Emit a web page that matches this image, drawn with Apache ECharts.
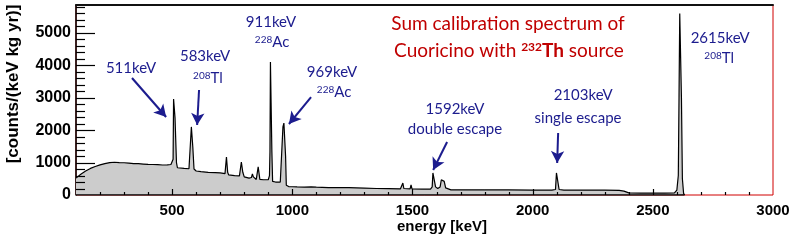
<!DOCTYPE html>
<html><head><meta charset="utf-8">
<script src="https://cdn.jsdelivr.net/npm/echarts@6/dist/echarts.min.js"></script>
<style>html,body{margin:0;padding:0;background:#fff}#c{width:794px;height:240px}</style>
</head><body><div id="c"></div>
<script>
// Spectrum: energy (keV) and counts/(keV kg yr)
const energy = [100,120,140,160,180,200,220,240,260,280,300,320,340,360,380,400,420,440,460,480,495,
  500,504,506,510,512,515,518,522,530,550,570,578,580,584,586,589,591,600,620,650,680,700,720,724,726,729,731,735,
  760,780,786,788,792,794,800,820,830,834,838,850,856,858,862,865,880,900,905,907,909,913,915,918,930,950,958,961,965,969,972,975,
  985,1000,1020,1050,1078,1082,1086,1100,1150,1200,1236,1240,1244,1300,1350,1400,1450,1456,1460,1464,1490,1494,1498,
  1540,1575,1582,1585,1592,1596,1605,1615,1620,1626,1632,1638,1660,1700,1800,1900,2000,2080,2095,2099,2106,2110,2130,
  2200,2300,2360,2380,2400,2450,2500,2550,2590,2600,2606,2609,2612,2616,2619,2623,2628,2632];
const counts = [520,640,740,820,880,930,970,1000,1010,1000,995,985,970,965,955,945,940,935,925,930,940,
  950,1100,2960,2960,2380,2380,1000,840,830,820,810,850,2100,2100,1480,1480,800,740,720,700,690,680,660,700,1170,1170,700,620,
  600,590,620,1018,1018,700,560,520,540,650,560,480,520,865,865,480,470,470,600,1330,4100,4100,1330,420,400,400,450,2100,2220,2220,1200,300,
  260,255,250,245,250,300,250,240,230,225,225,270,225,210,200,195,190,200,370,200,190,309,190,
  180,180,250,680,680,250,200,250,470,494,420,220,160,160,155,155,150,150,170,680,680,170,150,
  150,150,145,120,65,60,60,60,65,150,600,3025,5600,5600,3025,500,50,0];
const xMajorTicks = [500,1000,1500,2000,2500,3000];
const yMajorTicks = [0,1000,2000,3000,4000,5000];
const xTickValues = [200,300,400,500,600,700,800,900,1000,1100,1200,1300,1400,1500,1600,1700,1800,1900,2000,2100,2200,2300,2400,2500,2600,2700,2800,2900];
const yTickValues = [200,400,600,800,1000,1200,1400,1600,1800,2000,2200,2400,2600,2800,3000,3200,3400,3600,3800,4000,4200,4400,4600,4800,5000,5200,5400,5600,5800];

// Annotation arrows: [fromE, fromV, toE, toV]
const arrows = [[333,3608,475,2405],[612,3238,604,2159],[1078,3022,986,2190],[1644,1634,1586,771],[2106,1912,2102,987]];
// Annotation labels (centres in data coordinates)
const labelText = ['511keV','583keV','{s|208}Tl','911keV','{s|228}Ac','969keV','{s|228}Ac','1592keV','double escape','2103keV','single escape','2615keV','{s|208}Tl'];
const labelE = [329,637,649,911,916,1165,1174,1677,1677,2210,2189,2780,2776];
const labelV = [3917,4287,3608,5335,4719,3793,3177,2652,2035,3084,2375,4842,4225];

const XMIN = 100, XMAX = 3000, YMIN = 0, YMAX = 5860;
const BLUE = '#1c1c8e', RED = '#c00000';
const chart = echarts.init(document.getElementById('c'), null, {renderer:'canvas'});
const data = energy.map((e,i)=>[e,counts[i]]);
const baseLine = [[energy[0],0],[energy[energy.length-1],0]];
const lab = {fontFamily:'Liberation Sans', fontWeight:'bold', color:'#000', formatter:v=>String(v)};
const tickData = xTickValues.map(v=>[v,YMIN,0]).concat(yTickValues.map(v=>[XMIN,v,1]));
chart.setOption({
  animation:false,
  grid:{left:76,right:21,top:5,bottom:45,show:true,borderColor:'#d00000',borderWidth:1,backgroundColor:'transparent'},
  xAxis:[
    {type:'value',min:XMIN,max:XMAX,position:'bottom',axisLine:{show:false},axisTick:{show:false},
     axisLabel:Object.assign({customValues:xMajorTicks,fontSize:15,margin:8},lab),splitLine:{show:false}},
    {type:'value',min:XMIN,max:XMAX,position:'top',axisLine:{show:true,lineStyle:{color:'#111',width:2}},
     axisTick:{show:false},axisLabel:{show:false},splitLine:{show:false}}
  ],
  yAxis:[
    {type:'value',min:YMIN,max:YMAX,position:'left',
     axisLine:{show:true,lineStyle:{color:'#000',width:1.5}},axisTick:{show:false},
     axisLabel:Object.assign({customValues:yMajorTicks,fontSize:16,margin:5},lab),splitLine:{show:false}}
  ],
  series:[{
    type:'line',xAxisIndex:0,yAxisIndex:0,data:data,symbol:'none',
    lineStyle:{color:'#000',width:1.2},areaStyle:{color:'#cccccc',opacity:1},
    markLine:{silent:true,symbol:['none','arrow'],symbolSize:[10,12],
      lineStyle:{color:BLUE,width:2,type:'solid'},label:{show:false},
      data:arrows.map(a=>[{coord:[a[0],a[1]]},{coord:[a[2],a[3]]}])}
  },{
    type:'line',xAxisIndex:0,yAxisIndex:0,data:baseLine,symbol:'none',z:3,
    lineStyle:{color:'#000',width:1.5}
  },{
    type:'custom',xAxisIndex:0,yAxisIndex:0,z:20,silent:true,clip:false,
    encode:{x:0,y:1},data:tickData,
    renderItem:function(params,api){
      const v0 = api.value(0), v1 = api.value(1), isY = api.value(2)===1;
      const p = api.coord([v0,v1]);
      if (isY){
        const len = yMajorTicks.indexOf(v1)>=0 ? 19 : 9;
        const y = Math.round(p[1])+0.5;
        return {type:'line',shape:{x1:p[0],y1:y,x2:p[0]+len,y2:y},style:{stroke:'#000',lineWidth:1.2}};
      }
      const len = xMajorTicks.indexOf(v0)>=0 ? 6 : 3;
      const x = Math.round(p[0])+0.5;
      return {type:'line',shape:{x1:x,y1:p[1],x2:x,y2:p[1]-len},style:{stroke:'#000',lineWidth:1.2}};
    }
  }]
});
const g = [];
const toPx = (e,v)=>chart.convertToPixel({xAxisIndex:0,yAxisIndex:0},[e,v]);
for (let i=0;i<labelText.length;i++){
  const p = toPx(labelE[i],labelV[i]);
  g.push({type:'text',z:60,x:p[0],y:p[1],style:{text:labelText[i],fill:BLUE,font:'15px Lato',align:'center',verticalAlign:'middle',
    rich:{s:{fontSize:10,fontFamily:'Lato',fill:BLUE,verticalAlign:'top',lineHeight:10}}}});
}
g.push({type:'text',x:508,y:24,style:{text:'Sum calibration spectrum of',fill:RED,font:'19px Lato',align:'center',verticalAlign:'middle'}});
g.push({type:'text',x:509,y:51,style:{text:'Cuoricino with {s|232}{b|Th} source',fill:RED,font:'19px Lato',align:'center',verticalAlign:'middle',
  rich:{s:{fontSize:12,fontWeight:'bold',fontFamily:'Lato',fill:RED,verticalAlign:'top',lineHeight:12},
        b:{fontSize:19,fontWeight:'bold',fontFamily:'Lato',fill:RED}}}});
g.push({type:'text',x:13,y:84,rotation:Math.PI/2,style:{text:'[counts/(keV kg yr)]',fill:'#000',font:'bold 17px "Liberation Sans"',align:'center',verticalAlign:'middle'}});
g.push({type:'text',x:442,y:227,style:{text:'energy [keV]',fill:'#000',font:'bold 15px "Liberation Sans"',align:'center',verticalAlign:'middle'}});
chart.setOption({graphic:{elements:g}});
</script></body></html>
